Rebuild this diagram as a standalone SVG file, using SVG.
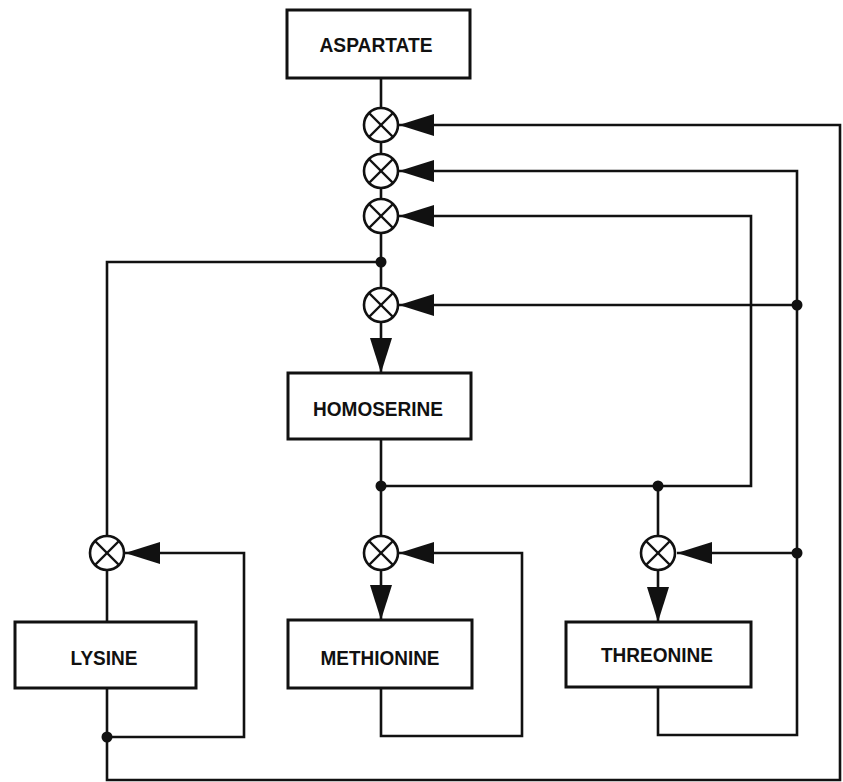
<svg xmlns="http://www.w3.org/2000/svg" width="843" height="782" viewBox="0 0 843 782">
<style>
.box{fill:#fff;stroke:#111;stroke-width:3}
.lbl{font-family:"Liberation Sans",Arial,sans-serif;font-weight:bold;font-size:20px;fill:#111;text-anchor:middle}
.ln{fill:none;stroke:#111;stroke-width:2.6;stroke-linejoin:miter}
.dot{fill:#111}
</style>
<defs>
<marker id="ah" markerUnits="userSpaceOnUse" markerWidth="36" markerHeight="24" viewBox="0 0 36 24" refX="35" refY="12" orient="auto">
<polygon points="0,1 35,12 0,23" fill="#111"/>
</marker>
<g id="x">
<circle cx="0" cy="0" r="17" fill="#fff" stroke="#111" stroke-width="2.6"/>
<line x1="-12" y1="-12" x2="12" y2="12" stroke="#111" stroke-width="2.4"/>
<line x1="-12" y1="12" x2="12" y2="-12" stroke="#111" stroke-width="2.4"/>
</g>
</defs>
<rect width="843" height="782" fill="#fff"/>
<g id="connectors">
<path class="ln" d="M381,78 V108 M381,142 V154 M381,188 V199 M381,233 V288"/>
<path class="ln" d="M381,322 V373" marker-end="url(#ah)"/>
<path class="ln" d="M107,688 V780 H840 V125 H399" marker-end="url(#ah)"/>
<path class="ln" d="M107,737 H244 V553 H125" marker-end="url(#ah)"/>
<path class="ln" d="M658,687 V735 H797 V171 H399" marker-end="url(#ah)"/>
<path class="ln" d="M797,553 H677" marker-end="url(#ah)"/>
<path class="ln" d="M797,305 H399" marker-end="url(#ah)"/>
<path class="ln" d="M381,688 V736 H522 V553 H399" marker-end="url(#ah)"/>
<path class="ln" d="M381,439 V536"/>
<path class="ln" d="M381,486 H751 V216 H399" marker-end="url(#ah)"/>
<path class="ln" d="M658,486 V536"/>
<path class="ln" d="M658,570 V622" marker-end="url(#ah)"/>
<path class="ln" d="M381,570 V620" marker-end="url(#ah)"/>
<path class="ln" d="M381,262 H107 V536 M107,570 V622"/>
<circle class="dot" cx="381" cy="262" r="5.5"/>
<circle class="dot" cx="797" cy="305" r="5.5"/>
<circle class="dot" cx="381" cy="486" r="5.5"/>
<circle class="dot" cx="658" cy="486" r="5.5"/>
<circle class="dot" cx="797" cy="553" r="5.5"/>
<circle class="dot" cx="107" cy="737" r="5.5"/>
</g>
<g id="enzymes">
<use href="#x" x="381" y="125"/>
<use href="#x" x="381" y="171"/>
<use href="#x" x="381" y="216"/>
<use href="#x" x="381" y="305"/>
<use href="#x" x="107" y="553"/>
<use href="#x" x="381" y="553"/>
<use href="#x" x="658" y="553"/>
</g>
<g id="aspartate">
<rect class="box" x="287" y="10" width="183" height="68"/>
<text class="lbl" x="376" y="52" textLength="113" lengthAdjust="spacingAndGlyphs">ASPARTATE</text>
</g>
<g id="homoserine">
<rect class="box" x="288" y="373" width="183" height="66"/>
<text class="lbl" x="378" y="416" textLength="130" lengthAdjust="spacingAndGlyphs">HOMOSERINE</text>
</g>
<g id="lysine">
<rect class="box" x="15" y="622" width="181" height="66"/>
<text class="lbl" x="104" y="665" textLength="67" lengthAdjust="spacingAndGlyphs">LYSINE</text>
</g>
<g id="methionine">
<rect class="box" x="288" y="620" width="184" height="68"/>
<text class="lbl" x="380" y="665" textLength="119" lengthAdjust="spacingAndGlyphs">METHIONINE</text>
</g>
<g id="threonine">
<rect class="box" x="566" y="622" width="185" height="65"/>
<text class="lbl" x="657" y="662" textLength="112" lengthAdjust="spacingAndGlyphs">THREONINE</text>
</g>
</svg>
